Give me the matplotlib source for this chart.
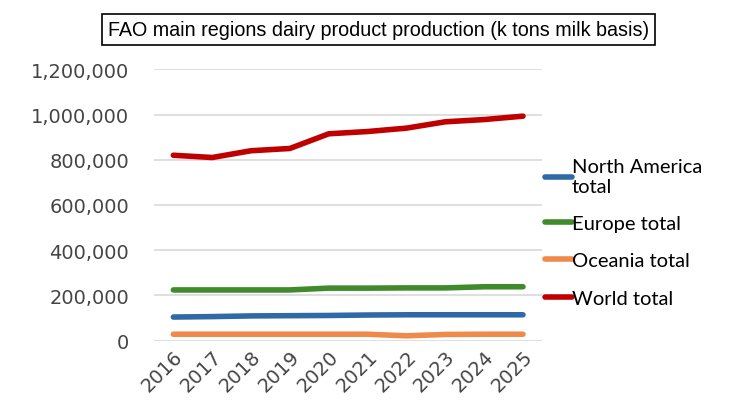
import matplotlib.pyplot as plt
from matplotlib.ticker import FuncFormatter

years = [2016, 2017, 2018, 2019, 2020, 2021, 2022, 2023, 2024, 2025]
north_america = [104000, 106000, 109000, 110000, 111000, 113000, 114000, 114000, 114000, 114000]
europe = [224000, 224000, 224000, 224000, 232000, 232000, 233000, 233000, 238000, 238000]
oceania = [28000, 28000, 28000, 28000, 28000, 28000, 21000, 27000, 28000, 28000]
world = [820000, 810000, 840000, 850000, 915000, 925000, 940000, 968000, 978000, 993000]

series = [
    ("North America\ntotal", north_america, "#2e6aa6"),
    ("Europe total", europe, "#3f8a2a"),
    ("Oceania total", oceania, "#f08a4b"),
    ("World total", world, "#c00000"),
]

fig = plt.figure(figsize=(7.33, 4.14), dpi=100)
ax = fig.add_axes([0.21, 0.175, 0.53, 0.655])

for name, vals, col in series:
    ax.plot(years, vals, color=col, lw=4, solid_capstyle="round", label=name)

ax.set_ylim(0, 1200000)
ax.set_yticks(range(0, 1200001, 200000))
ax.yaxis.set_major_formatter(FuncFormatter(lambda v, p: f"{int(v):,}"))
ax.set_xlim(2015.5, 2025.5)
ax.set_xticks(years)
ax.grid(axis="y", color="#d9d9d9", lw=1.2)
ax.set_axisbelow(True)
for s in ax.spines.values():
    s.set_visible(False)
ax.tick_params(length=0, colors="#454545", labelsize=14)
ax.tick_params(axis="y", pad=18)
ax.tick_params(axis="x", pad=4)
for lab in ax.get_yticklabels():
    lab.set_family("DejaVu Sans")
for lab in ax.get_xticklabels():
    lab.set_family("DejaVu Sans")
    lab.set_rotation(45)
    lab.set_ha("right")
    lab.set_rotation_mode("anchor")

leg = fig.legend(loc="upper left", bbox_to_anchor=(0.733, 0.635), frameon=False,
                 prop={"family": "Lato", "size": 14.5}, handlelength=1.3,
                 handletextpad=0.0, labelspacing=1.0, borderaxespad=0)
for h in leg.get_lines():
    h.set_linewidth(4)
for t in leg.get_texts():
    t.set_linespacing(1.2)

fig.text(0.516, 0.927, "FAO main regions dairy product production (k tons milk basis)",
         ha="center", va="center", fontsize=14.2, family=["Liberation Sans", "DejaVu Sans"],
         bbox=dict(boxstyle="square,pad=0.3", fc="white", ec="black", lw=1.2))

fig.savefig("out.png", dpi=100)
